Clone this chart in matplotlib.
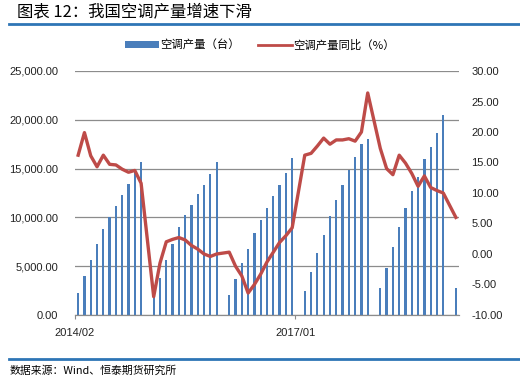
import numpy as np
import pandas as pd
import matplotlib
matplotlib.use("Agg")
import matplotlib.pyplot as plt
from matplotlib.lines import Line2D
from matplotlib.patches import Patch

plt.rcParams['font.family'] = ['Liberation Sans', 'Noto Sans CJK SC', 'DejaVu Sans']

# monthly categories, 2014/02 .. 2019/02 (January has no data)
months = pd.date_range('2014-02-01', '2019-02-01', freq='MS')
x_ticks = ['2014/02', '2017/01']

nan = np.nan
# cumulative air conditioner output (台)
output_2014 = [2223, 3996, 5635, 7275, 8811, 10007, 11168, 12295, 13422, 14700, 15700]
output_2015 = [2000, 3825, 5635, 7275, 9050, 10246, 11270, 12398, 13320, 14447, 15676]
output_2016 = [2049, 3689, 5359, 6740, 8420, 9734, 10997, 12193, 13320, 14583, 16086]
output_2017 = [2493, 4440, 6387, 8231, 10178, 11783, 13320, 14857, 16222, 17520, 18032]
output_2018 = [2732, 4782, 6933, 9050, 10997, 12705, 14173, 15984, 17247, 18681, 20492]
output_2019 = [2732]

# year-on-year growth (%)
yoy_2014 = [16.2, 19.9, 16.1, 14.3, 16.2, 14.7, 14.6, 13.9, 13.4, 13.7, 11.6]
yoy_2015 = [-7.0, -1.5, 2.0, 2.4, 2.7, 2.3, 1.4, 0.8, 0.0, -0.4, 0.0]
yoy_2016 = [0.3, -2.0, -3.6, -6.4, -5.0, -3.3, -1.3, 0.3, 1.9, 3.0, 4.3]
yoy_2017 = [16.2, 16.5, 17.7, 19.0, 18.0, 18.7, 18.7, 18.9, 18.5, 20.0, 26.4]
yoy_2018 = [17.3, 14.0, 13.0, 16.2, 14.9, 13.2, 11.1, 12.8, 10.9, 10.4, 10.0]
yoy_2019 = [6.0]

output = np.array(output_2014 + [nan] + output_2015 + [nan] + output_2016 + [nan]
                  + output_2017 + [nan] + output_2018 + [nan] + output_2019, dtype=float)
yoy = np.array(yoy_2014 + [nan] + yoy_2015 + [nan] + yoy_2016 + [nan]
               + yoy_2017 + [nan] + yoy_2018 + [nan] + yoy_2019, dtype=float)

bar_color = '#4A7EBB'
line_color = '#BE4B48'
grid_color = '#8C8C8C'
rule_color = '#2E75B6'

fig = plt.figure(figsize=(5.2, 3.81), dpi=100)
ax = fig.add_axes([75 / 520, 1 - 315 / 381, 384 / 520, 244 / 381])
ax2 = ax.twinx()

x = np.arange(len(months))
ax.bar(x, np.nan_to_num(output), width=0.36, color=bar_color, zorder=2)
ax.set_xlim(-0.5, len(months) - 0.5)
ax.set_ylim(0, 25000)
ax.set_yticks(np.arange(0, 25001, 5000))
ax.set_yticklabels(['{:,.2f}'.format(v) for v in np.arange(0, 25001, 5000)])
ax.yaxis.grid(True, color=grid_color, linewidth=0.9)
ax.set_axisbelow(True)

# x axis: ticks on category boundaries
tick_pos = [list(months.strftime('%Y/%m')).index(t) - 0.5 for t in x_ticks]
ax.set_xticks(tick_pos)
ax.set_xticklabels(x_ticks)

mask = ~np.isnan(yoy)
ax2.plot(x[mask], yoy[mask], color=line_color, linewidth=2.4, solid_joinstyle='round', zorder=3)
ax2.set_ylim(-10, 30)
ax2.set_yticks(np.arange(-10, 31, 5))
ax2.set_yticklabels(['{:.2f}'.format(v) for v in np.arange(-10, 31, 5)])

for a in (ax, ax2):
    for s in ('top', 'left', 'right'):
        a.spines[s].set_visible(False)
    a.spines['bottom'].set_color(grid_color)
    a.tick_params(axis='y', length=0, labelsize=8, colors='#222222')
ax.tick_params(axis='y', pad=12)
ax2.tick_params(axis='y', pad=9)
ax.tick_params(axis='x', length=3, color=grid_color, labelsize=8, labelcolor='#222222', pad=6)

# legend
handles = [Patch(facecolor=bar_color, edgecolor='none'),
           Line2D([0], [0], color=line_color, linewidth=2)]
fig.legend(handles, ['空调产量（台）', '空调产量同比（%）'], loc='center',
           bbox_to_anchor=(260 / 520, 1 - 45 / 381), ncol=2, frameon=False,
           prop={'family': ['Noto Sans CJK SC', 'DejaVu Sans'], 'size': 8.2},
           handlelength=3.0, handleheight=0.5, handletextpad=0.1, columnspacing=1.6)

# title and rules
fig.text(17 / 520, 1 - 13 / 381, '图表 12：我国空调产量增速下滑', fontsize=11.8,
         family=['Noto Sans CJK SC', 'DejaVu Sans'], va='center', ha='left')
fig.add_artist(Line2D([9 / 520, 1], [1 - 23.5 / 381] * 2, color=rule_color, linewidth=2))
fig.add_artist(Line2D([9 / 520, 1], [1 - 359 / 381] * 2, color=rule_color, linewidth=2))
fig.text(10 / 520, 1 - 371 / 381, '数据来源：Wind、恒泰期货研究所', fontsize=7.8,
         family=['Noto Sans CJK SC', 'DejaVu Sans'], va='center', ha='left')

fig.savefig('out.png', dpi=100)
